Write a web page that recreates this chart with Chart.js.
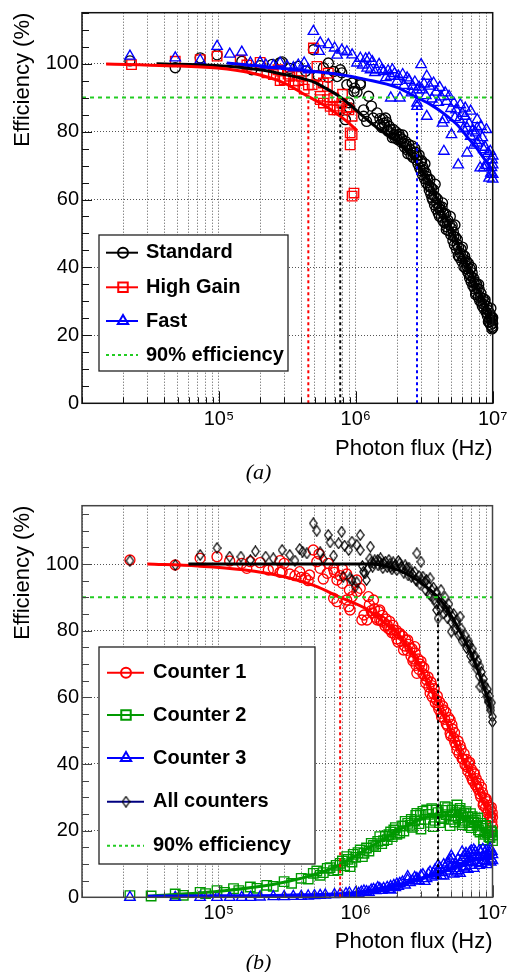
<!DOCTYPE html>
<html><head><meta charset="utf-8">
<script src="https://cdn.jsdelivr.net/npm/chart.js@4.4.1/dist/chart.umd.min.js"></script>
<style>
html,body{margin:0;padding:0;background:#fff;}
#wrap{position:relative;width:507px;height:972px;overflow:hidden;background:#fff;}
canvas{position:absolute;left:0;}
#cA{top:0;} #cB{top:480px;}
.cap{position:absolute;left:0;width:517px;text-align:center;font:italic 22px "Liberation Serif","DejaVu Serif",serif;line-height:22px;color:#000;}
</style></head>
<body><div id="wrap">
<canvas id="cA" width="507" height="480"></canvas>
<canvas id="cB" width="507" height="492"></canvas>
<div class="cap" style="top:461px">(a)</div>
<div class="cap" style="top:951px">(b)</div>
</div>
<script>
// ---------- axes / tick labels ----------
const xGrid = [1e4,2e4,3e4,4e4,5e4,6e4,7e4,8e4,9e4,1e5,2e5,3e5,4e5,5e5,6e5,7e5,8e5,9e5,1e6,2e6,3e6,4e6,5e6,6e6,7e6,8e6,9e6,1e7];
const xMajor = [1e5,1e6,1e7];
const xLabels = ['10\u2075','10\u2076','10\u2077'];
const yMajor = [0,20,40,60,80,100];
const yMinorStep = 5;
const xTitle = 'Photon flux (Hz)';
const yTitle = 'Efficiency (%)';
const eff90 = 90;

// ---------- panel (a) ----------
const legendA = ['Standard','High Gain','Fast','90% efficiency'];
const crossA = [4.5e5, 7.7e5, 2.8e6];   // red, black, blue 90% crossings
const standardPts = [[2.24e4,100.8],[4.8e4,98.8],[7.3e4,101.7],[9.7e4,102.6],[1.47e5,100.7],[1.74e5,98.2],[2.0e5,99.4],[2.45e5,99.8],[2.8e5,100.3],[2.9e5,100.5],[3.3e5,98.6],[3.8e5,99.2],[4.3e5,97.8],[4.9e5,104.1],[5.3e5,96.5],[5.8e5,98.8],[6.3e5,100.2],[6.3e5,96],[6.9e5,97.7],[7.3e5,96.2],[7.7e5,98.2],[7.9e5,97.3],[8.4e5,83.5],[8.6e5,86.4],[8.6e5,93.8],[8.9e5,88.5],[9.0e5,87],[9.4e5,94.3],[9.7e5,91.8],[9.8e5,92.8],[1.02e6,91.6],[1.08e6,94.3],[1.08e6,93.8],[1.14e6,84.5],[1.14e6,86.4],[1.2e6,83],[1.24e6,90.4],[1.3e6,87.5],[1.34e6,84],[1.43e6,85.5],[1.5e6,83.8],[1.5e6,82],[1.6e6,82.5],[1.65e6,84],[1.7e6,80.5],[1.8e6,80.5],[1.85e6,78.2],[1.9e6,79],[2.0e6,78.8],[2.1e6,78.4],[2.2e6,79],[2.24e6,76.6],[2.35e6,75.8],[2.4e6,73.5],[2.5e6,74.7],[2.65e6,73.6],[2.7e6,75],[2.8e6,72.8],[2.97e6,71.2],[3.0e6,68.5],[3.1e6,69.5],[3.2e6,70.5],[3.3e6,66.8],[3.4e6,64],[3.5e6,63.8],[3.6e6,60.5],[3.7e6,62.9],[3.8e6,64.5],[3.9e6,58.9],[4.0e6,56],[4.1e6,58.0],[4.3e6,59],[4.4e6,55.7],[4.6e6,52],[4.7e6,54],[4.9e6,55],[5.0e6,51.5],[5.2e6,49.1],[5.3e6,52.5],[5.5e6,46.8],[5.6e6,43.5],[5.8e6,44.2],[6.0e6,46],[6.1e6,42.5],[6.3e6,41.5],[6.5e6,40.3],[6.7e6,38],[6.9e6,37.5],[7.0e6,40],[7.3e6,35.4],[7.5e6,32],[7.7e6,33.8],[7.9e6,35],[8.1e6,31.4],[8.3e6,29.5],[8.6e6,29.2],[8.8e6,30.5],[9.1e6,26.5],[9.3e6,24],[9.5e6,24.8],[9.7e6,28],[9.8e6,25.5],[9.9e6,22.6],[1.0e7,23.5],
  [1.55e6,81.2],[1.58e6,83.6],[1.62e6,81.9],[1.68e6,82.8],[1.72e6,80.1],[1.76e6,81.5],[1.82e6,79.4],[1.88e6,80.6],[1.93e6,78.1],[1.97e6,79.9],[2.03e6,77.6],[2.07e6,79.2],[2.14e6,76.9],[2.18e6,77.8],[2.27e6,75.4],[2.31e6,77.1],[2.38e6,74.6],[2.44e6,76.2],[2.53e6,73.1],[2.58e6,75.8],[2.62e6,72.4],[2.74e6,73.9],[2.77e6,71.6],[2.85e6,70.4],[2.9e6,73.1],[2.93e6,69.2],[3.03e6,71.4],[3.07e6,67.3],[3.14e6,68.6],[3.18e6,66.1],[3.24e6,67.9],[3.27e6,64.9],[3.36e6,65.8],[3.44e6,62.7],[3.48e6,65.9],[3.53e6,61.6],[3.58e6,63.4],[3.65e6,59.8],[3.72e6,61.1],[3.76e6,58.4],[3.84e6,60.6],[3.87e6,57.2],[3.95e6,60.1],[4.04e6,57.6],[4.08e6,55.1],[4.16e6,56.9],[4.22e6,54.8],[4.27e6,57.8],[4.34e6,53.6],[4.38e6,55.9],[4.48e6,53.1],[4.53e6,55.8],[4.58e6,51.2],[4.65e6,53.3],[4.76e6,50.8],[4.83e6,52.6],[4.94e6,49.6],[5.06e6,52.3],[5.12e6,47.9],[5.16e6,50.4],[5.25e6,46.6],[5.36e6,48.9],[5.44e6,45.3],[5.52e6,48.2],[5.64e6,45.9],[5.72e6,42.9],[5.86e6,45.4],[5.94e6,41.8],[6.05e6,43.7],[6.16e6,40.2],[6.24e6,43.3],[6.36e6,39.7],[6.43e6,41.9],[6.58e6,38.6],[6.64e6,41.2],[6.78e6,36.9],[6.84e6,39.6],[6.96e6,35.8],[7.08e6,38.4],[7.16e6,34.6],[7.24e6,36.9],[7.38e6,33.7],[7.46e6,35.7],[7.58e6,32.4],[7.64e6,35.1],[7.84e6,31.2],[7.96e6,33.6],[8.04e6,30.2],[8.2e6,32.4],[8.4e6,28.6],[8.5e6,30.9],[8.66e6,27.8],[8.74e6,29.9],[8.94e6,26.8],[9.04e6,28.6],[9.16e6,25.6],[9.24e6,27.4],[9.42e6,23.9],[9.56e6,26.4],[9.64e6,23.1],[9.74e6,25.1],[9.86e6,21.9],[9.93e6,24.4],[1e7,22.2],[1e7,25.2]];
const highGainPts = [[2.3e4,99.7],[4.8e4,100.7],[7.3e4,101.2],[9.7e4,102.2],[1.43e5,101],[1.6e5,99.6],[2.0e5,100.4],[2.24e5,97.3],[2.5e5,96.8],[2.7e5,98.2],[2.8e5,95],[3.0e5,95.3],[3.2e5,96.9],[3.3e5,96.3],[3.5e5,93.8],[3.6e5,94.9],[3.8e5,95],[4.0e5,96.3],[4.2e5,92.5],[4.5e5,93.7],[4.8e5,93.8],[4.9e5,104.6],[5.2e5,99.2],[5.2e5,96.3],[5.5e5,90.4],[5.5e5,89.4],[5.8e5,94.3],[5.8e5,88.4],[6.2e5,93.3],[6.2e5,89.4],[6.3e5,97.2],[6.5e5,87.4],[6.9e5,89.9],[6.9e5,86.4],[7.3e5,86.4],[7.6e5,87.5],[7.9e5,88.4],[8.0e5,91],[8.6e5,87],[8.9e5,86.4],[9.1e5,79.6],[9.4e5,84.5],[9.4e5,79.1],[9.1e5,76.1],[9.7e5,61.9],[9.4e5,61]];
const fastPts = [[2.24e4,102.2],[4.8e4,101.7],[7.3e4,101],[9.7e4,105.1],[1.2e5,102.8],[1.47e5,103.4],[1.7e5,100.2],[2.0e5,100.4],[2.2e5,99.6],[2.5e5,99.4],[2.8e5,100.2],[3.15e5,99.2],[3.5e5,98.8],[3.8e5,99.6],[4.2e5,100.2],[4.5e5,98.2],[4.9e5,109.5],[5.4e5,103.6],[5.5e5,106.1],[6.3e5,105.6],[7.0e5,104.6],[7.3e5,102.5],[7.9e5,104],[8.6e5,103.5],[9.4e5,102.6],[1.02e6,100.2],[1.08e6,101.6],[1.21e6,98.7],[1.25e6,101.6],[1.28e6,98.2],[1.42e6,98.2],[1.55e6,98.2],[1.6e6,97.7],[1.8e6,96.3],[1.8e6,89.9],[1.85e6,98.2],[2.0e6,94.8],[2.1e6,89.9],[2.2e6,96.8],[2.37e6,95.8],[2.6e6,93.3],[2.8e6,92.3],[2.8e6,87.4],[2.8e6,88.4],[3.0e6,99.7],[3.15e6,94],[3.3e6,96.3],[3.3e6,84.5],[3.7e6,94.3],[4.1e6,93],[4.3e6,82.5],[4.4e6,83.5],[4.4e6,74.2],[4.5e6,91.4],[4.8e6,90.4],[5.0e6,79.1],[5.2e6,88.4],[5.4e6,86.4],[5.6e6,70.2],[5.8e6,87.9],[6.3e6,86.9],[6.3e6,84.5],[6.5e6,73.7],[6.5e6,81],[6.9e6,86],[6.9e6,78.6],[7.3e6,76],[7.7e6,83.5],[7.7e6,81],[7.7e6,76.6],[8.1e6,69.3],[8.2e6,81.5],[8.6e6,74.7],[8.6e6,69.3],[9.0e6,80.6],[9.0e6,70],[9.4e6,66.3],[9.7e6,67.8],[9.9e6,71.7],[1.0e7,67.4],[1.0e7,66],
  [1.12e6,99.6],[1.18e6,101.4],[1.32e6,100.6],[1.38e6,97.4],[1.48e6,99.8],[1.66e6,95.9],[1.72e6,97.9],[1.92e6,97.1],[2.05e6,96.3],[2.25e6,93.6],[2.45e6,95.1],[2.55e6,91.4],[2.7e6,94.6],[2.9e6,93.1],[3.05e6,92.3],[3.25e6,90.6],[3.45e6,93.4],[3.6e6,89.6],[3.85e6,91.6],[4.0e6,88.6],[4.2e6,90.2],[4.6e6,88.9],[4.95e6,86.8],[5.3e6,84.1],[5.7e6,83.6],[6.0e6,85.4],[6.1e6,80.8],[6.7e6,82.4],[7.1e6,80.2],[7.5e6,79.6],[7.9e6,77.4],[8.4e6,78.2],[8.8e6,75.4],[9.2e6,73.6],[9.6e6,74.2],[9.8e6,69.4],[1e7,70.2],[1e7,72.8]];
const standardFit = [[3.5e4,100],[1e5,99.4],[2e5,98.2],[3e5,96.8],[4e5,95.7],[5e5,94.5],[6e5,92.8],[7.7e5,90.2],[1e6,86.4],[1.2e6,83.6],[1.5e6,80.5],[2e6,77],[2.5e6,73.2],[3e6,69],[3.5e6,64.5],[4e6,59.5],[5e6,51],[6e6,44],[7e6,38],[8e6,32.5],[9e6,28],[1e7,23.5]];
const highGainFit = [[1.5e4,99.9],[4.2e4,99.4],[9.7e4,98.7],[1.7e5,97.3],[3e5,94.3],[4.5e5,90.3],[5.5e5,88.4],[6.9e5,85.9],[8.6e5,83],[1.02e6,80.3]];
const fastFit = [[1.14e5,100.2],[3e5,98.6],[7e5,97],[1.2e6,95.3],[2e6,93],[2.8e6,90],[3.5e6,88],[4.5e6,85],[5.5e6,82],[6.5e6,78.5],[7.5e6,75.5],[8.5e6,72.5],[1e7,68.5]];

// ---------- panel (b) ----------
const legendB = ['Counter 1','Counter 2','Counter 3','All counters','90% efficiency'];
const crossB = [7.7e5, 4.0e6];   // red, black
const counter1Pts = [[2.24e4,101.2],[4.8e4,99.7],[7.3e4,101.7],[9.7e4,102.2],[1.2e5,100.9],[1.47e5,100.2],[1.6e5,98.7],[1.7e5,100.7],[2.0e5,100.4],[2.3e5,98.2],[2.5e5,98.7],[2.8e5,101],[2.8e5,97.5],[2.9e5,97.7],[3.0e5,100.2],[3.3e5,97],[3.6e5,96.5],[3.9e5,97.7],[4.0e5,96],[4.3e5,95.8],[4.5e5,95],[4.6e5,96.7],[4.9e5,104.2],[5.2e5,100.7],[5.4e5,103],[5.5e5,98.7],[5.8e5,95.5],[6.2e5,97.2],[6.3e5,100.2],[6.9e5,98.4],[6.9e5,89.7],[7.0e5,97.5],[7.3e5,95.2],[7.3e5,88.7],[7.7e5,96.5],[8.0e5,94.2],[8.0e5,98.5],[8.6e5,97],[8.6e5,89.2],[8.9e5,87.2],[9.0e5,92.2],[9.1e5,86.2],[9.4e5,90.2],[1.02e6,91.7],[1.02e6,95.2],[1.08e6,92.7],[1.11e6,83.2],[1.15e6,84.7],[1.21e6,83.2],[1.24e6,90.2],[1.3e6,86],[1.35e6,89.2],[1.4e6,84],[1.5e6,86.2],[1.5e6,83.2],[1.6e6,82.5],[1.7e6,81.7],[1.8e6,80.2],[1.9e6,80.2],[2.0e6,77.5],[2.1e6,79.2],[2.24e6,74.2],[2.4e6,77.2],[2.5e6,74.7],[2.65e6,71.5],[2.7e6,75.2],[2.8e6,67.2],[2.95e6,70],[3.05e6,69.2],[3.2e6,66.5],[3.3e6,65.2],[3.5e6,61.2],[3.6e6,63.5],[3.7e6,61.2],[3.9e6,59.2],[4.0e6,57.5],[4.2e6,55.2],[4.4e6,56.2],[4.6e6,52],[4.9e6,53.2],[4.9e6,49.2],[5.1e6,50.5],[5.3e6,46.5],[5.5e6,44.2],[5.8e6,45.5],[6.1e6,41.5],[6.5e6,39.2],[6.8e6,40.5],[7.1e6,35.5],[7.4e6,37],[7.7e6,33.2],[8.1e6,31],[8.3e6,33],[8.6e6,28.2],[9.0e6,29.5],[9.3e6,26],[9.7e6,24.2],[9.8e6,27],[1.0e7,21.2],[1.0e7,24],
  [1.26e6,87.8],[1.32e6,85.3],[1.37e6,86.6],[1.44e6,83.2],[1.47e6,85.8],[1.54e6,82.9],[1.57e6,84.6],[1.64e6,81.4],[1.67e6,83.5],[1.74e6,80.6],[1.77e6,82.8],[1.84e6,79.4],[1.87e6,81.6],[1.93e6,78.9],[1.98e6,80.1],[2.04e6,76.6],[2.07e6,79.1],[2.15e6,76.8],[2.2e6,78.4],[2.28e6,75.4],[2.32e6,77.2],[2.38e6,74.1],[2.44e6,75.9],[2.54e6,72.3],[2.58e6,74.6],[2.62e6,70.9],[2.72e6,73.3],[2.76e6,69.6],[2.86e6,71.5],[2.9e6,68.4],[3.0e6,70.8],[3.1e6,67.1],[3.15e6,68.9],[3.25e6,64.3],[3.38e6,66.1],[3.43e6,63.1],[3.55e6,64.6],[3.63e6,60.1],[3.75e6,62.6],[3.82e6,58.4],[3.95e6,60.4],[4.05e6,56.4],[4.1e6,58.6],[4.25e6,54.1],[4.32e6,57.4],[4.48e6,53.4],[4.55e6,55.6],[4.7e6,51.4],[4.78e6,53.9],[4.96e6,48.4],[5.05e6,51.8],[5.2e6,47.8],[5.28e6,49.4],[5.42e6,45.6],[5.6e6,46.9],[5.7e6,43.1],[5.9e6,44.4],[6.0e6,41.6],[6.2e6,43.1],[6.3e6,39.8],[6.45e6,41.4],[6.6e6,37.9],[6.7e6,40.1],[6.9e6,36.6],[7.0e6,38.4],[7.2e6,34.9],[7.3e6,37.4],[7.5e6,33.8],[7.6e6,35.6],[7.85e6,32.4],[7.95e6,34.2],[8.2e6,30.1],[8.45e6,31.4],[8.55e6,27.6],[8.8e6,29.8],[8.9e6,26.9],[9.1e6,28.7],[9.2e6,25.4],[9.4e6,27.6],[9.55e6,24.1],[9.65e6,26.3],[9.9e6,22.6],[9.95e6,25.4]];
const counter2Pts = [[2.24e4,0.5],[3.2e4,0.4],[4.8e4,1.0],[5.5e4,0.6],[7.3e4,1.5],[8.0e4,1.1],[9.7e4,2.0],[1.1e5,1.5],[1.28e5,2.6],[1.4e5,2.0],[1.7e5,3.1],[1.9e5,2.7],[2.24e5,3.6],[2.5e5,3.3],[3.0e5,4.7],[3.4e5,4.2],[4.0e5,5.7],[4.5e5,5.5],[4.9e5,7.2],[5.5e5,6.6],[6.2e5,8.7],[6.9e5,8.0],[7.7e5,10.2],[8.3e5,9.5],[8.6e5,12.2],[9.1e5,9.2],[1.0e6,12.0],[1.08e6,14.2],[1.15e6,13.2],[1.3e6,16.2],[1.4e6,15.2],[1.5e6,18.2],[1.6e6,17.0],[1.75e6,18.8],[1.9e6,20.2],[2.1e6,19.3],[2.4e6,22.2],[2.6e6,21.0],[2.8e6,25.2],[2.97e6,24.7],[3.0e6,20.5],[3.3e6,26.2],[3.5e6,22.5],[3.7e6,21.2],[3.9e6,26.2],[4.2e6,24.0],[4.5e6,27.2],[4.9e6,21.5],[5.2e6,24.5],[5.5e6,27.7],[5.8e6,26.7],[6.1e6,22.5],[6.4e6,25.7],[6.8e6,21.5],[7.1e6,24.2],[7.5e6,23.2],[7.9e6,20.2],[8.2e6,22.2],[8.6e6,17.2],[9.0e6,20.7],[9.4e6,18.2],[9.7e6,20.0],[1.0e7,18.7],[1.0e7,17.0],
  [5.2e5,7.9],[5.8e5,7.4],[6.5e5,8.9],[7.2e5,9.6],[7.4e5,8.2],[8.0e5,10.9],[8.8e5,11.4],[9.4e5,10.6],[9.6e5,12.9],[1.04e6,13.4],[1.12e6,12.2],[1.2e6,14.8],[1.25e6,13.9],[1.35e6,15.6],[1.45e6,16.8],[1.55e6,16.1],[1.65e6,18.4],[1.7e6,17.3],[1.8e6,19.6],[1.85e6,18.2],[1.95e6,20.9],[2.0e6,18.9],[2.2e6,21.4],[2.25e6,19.9],[2.3e6,22.8],[2.5e6,21.6],[2.55e6,23.4],[2.7e6,22.9],[2.75e6,24.6],[2.9e6,22.1],[3.1e6,25.8],[3.2e6,23.4],[3.4e6,24.9],[3.6e6,26.6],[3.8e6,23.1],[4.0e6,25.4],[4.1e6,22.4],[4.3e6,26.1],[4.4e6,23.6],[4.6e6,24.8],[4.7e6,26.9],[5.0e6,23.4],[5.1e6,26.2],[5.3e6,22.6],[5.4e6,25.4],[5.6e6,23.8],[5.7e6,26.1],[5.9e6,24.6],[6.0e6,21.8],[6.2e6,25.2],[6.3e6,23.1],[6.6e6,24.1],[6.7e6,22.4],[6.9e6,25.1],[7.0e6,20.9],[7.3e6,22.6],[7.7e6,21.6],[7.8e6,23.8],[8.1e6,19.6],[8.4e6,21.4],[8.8e6,18.9],[8.9e6,21.6],[9.2e6,19.4],[9.6e6,17.9],[9.9e6,19.6]];
const counter3Pts = [[2.24e4,0],[4.8e4,0],[7.3e4,0],[9.7e4,0],[1.2e5,0],[1.47e5,0],[1.7e5,0],[2.0e5,0.1],[2.5e5,0.2],[3.0e5,0.2],[3.5e5,0.3],[4.0e5,0.3],[4.5e5,0.4],[5.0e5,0.5],[5.5e5,0.6],[6.0e5,0.7],[7.0e5,0.8],[7.7e5,1.0],[8.5e5,1.1],[9.0e5,1.3],[1.0e6,1.4],[1.1e6,1.6],[1.2e6,1.7],[1.35e6,2.4],[1.5e6,2.6],[1.6e6,2.7],[1.8e6,3.3],[1.8e6,2.2],[2.0e6,4.0],[2.1e6,4.2],[2.4e6,5.2],[2.4e6,6.2],[2.6e6,5.0],[2.8e6,5.7],[3.0e6,6.5],[3.2e6,4.8],[3.4e6,7.0],[3.7e6,7.2],[4.0e6,8.0],[4.2e6,6.5],[4.5e6,9.0],[4.9e6,8.7],[4.9e6,11.2],[5.2e6,7.0],[5.4e6,9.8],[5.8e6,10.2],[5.8e6,7.2],[6.1e6,12],[6.4e6,13.2],[6.6e6,8.4],[7.0e6,14.0],[7.3e6,14.2],[7.3e6,8.7],[7.7e6,12.5],[8.0e6,14.0],[8.4e6,11],[8.8e6,13.5],[9.2e6,12.2],[9.5e6,13.5],[9.8e6,11.5],[1.0e7,11.0],[1.0e7,12.8],
  [1.05e6,1.2],[1.15e6,1.9],[1.25e6,1.5],[1.3e6,2.2],[1.4e6,2.0],[1.45e6,2.9],[1.55e6,2.1],[1.7e6,3.0],[1.75e6,2.4],[1.9e6,3.6],[1.95e6,2.9],[2.05e6,3.3],[2.2e6,4.6],[2.3e6,3.7],[2.5e6,4.4],[2.7e6,6.0],[2.75e6,4.9],[2.9e6,5.1],[3.1e6,6.8],[3.3e6,5.6],[3.5e6,7.6],[3.6e6,6.1],[3.8e6,8.2],[3.9e6,6.6],[4.1e6,8.9],[4.3e6,7.4],[4.4e6,9.8],[4.6e6,7.9],[4.7e6,10.3],[5.0e6,9.4],[5.1e6,11.6],[5.3e6,8.6],[5.6e6,11.4],[5.6e6,8.0],[6.0e6,11.1],[6.2e6,8.8],[6.3e6,12.6],[6.5e6,10.4],[6.8e6,13.4],[6.9e6,9.6],[7.1e6,12.2],[7.5e6,13.6],[7.6e6,10.4],[7.9e6,12.0],[8.2e6,13.6],[8.3e6,10.2],[8.6e6,12.3],[9.0e6,14.0],[9.0e6,10.8],[9.4e6,12.6],[9.7e6,10.6],[9.9e6,13.8],
  [4.0e6,9.6],[4.4e6,6.4],[5.0e6,12.4],[5.5e6,7.6],[6.0e6,13.6],[6.4e6,9.2],[7.0e6,10.8],[7.3e6,12.8],[8.0e6,9.6],[8.5e6,14.4],[9.1e6,9.8],[9.6e6,14.6]];
const allPts = [[2.24e4,101],[4.8e4,99.7],[7.3e4,102.7],[9.7e4,104.8],[1.2e5,102.2],[1.45e5,102.2],[1.7e5,101.2],[1.85e5,103.8],[2.2e5,102.2],[2.5e5,101.7],[2.9e5,104.2],[3.3e5,102.7],[3.6e5,101],[3.9e5,104.5],[4.1e5,103.7],[4.4e5,103.2],[4.9e5,112.2],[5.2e5,110],[5.5e5,103.5],[5.8e5,101.5],[6.3e5,108.7],[6.5e5,106.5],[6.9e5,102.5],[7.5e5,106.2],[7.9e5,109.7],[8.1e5,96.2],[8.3e5,105.5],[8.9e5,104.2],[9.1e5,95.7],[9.4e5,106.7],[9.4e5,95.2],[9.9e5,93.2],[1.02e6,105.7],[1.02e6,94.5],[1.08e6,108.7],[1.08e6,104.2],[1.14e6,97.7],[1.17e6,97.2],[1.2e6,95.2],[1.28e6,105.2],[1.3e6,100.5],[1.35e6,100.2],[1.45e6,101.2],[1.5e6,100.7],[1.55e6,100],[1.6e6,100.2],[1.75e6,101.2],[1.8e6,99.2],[1.9e6,99.2],[1.95e6,99.7],[2.1e6,100.2],[2.2e6,98.7],[2.35e6,98.7],[2.5e6,97.7],[2.6e6,97],[2.8e6,103.2],[2.8e6,95],[3.0e6,100.7],[3.1e6,96.2],[3.3e6,95.2],[3.45e6,91],[3.5e6,95.7],[3.6e6,92.2],[3.9e6,91.5],[3.9e6,86.2],[4.0e6,83.7],[4.2e6,92.2],[4.5e6,90],[4.6e6,86],[4.8e6,88],[5.0e6,79.7],[5.2e6,85],[5.5e6,83.2],[5.8e6,84.2],[5.8e6,79.2],[6.2e6,77.2],[6.6e6,75.5],[6.8e6,75.7],[7.0e6,73.5],[7.3e6,72.2],[7.6e6,70],[8.1e6,69.2],[8.1e6,63.2],[8.6e6,65.5],[9.1e6,60.2],[9.4e6,58.5],[9.6e6,57],[1.0e7,54.2],
  [1.12e6,99.4],[1.22e6,98.4],[1.27e6,101.6],[1.33e6,99.2],[1.38e6,101.1],[1.46e6,99.6],[1.52e6,101.7],[1.58e6,98.8],[1.65e6,100.7],[1.7e6,99.1],[1.78e6,100.1],[1.84e6,98.4],[1.88e6,100.5],[2.0e6,98.2],[2.05e6,100.9],[2.15e6,99.2],[2.25e6,97.4],[2.3e6,99.6],[2.42e6,96.6],[2.45e6,98.9],[2.55e6,96.2],[2.7e6,97.6],[2.75e6,95.3],[2.9e6,96.4],[2.95e6,93.9],[3.05e6,95.1],[3.2e6,94.6],[3.25e6,92.2],[3.38e6,93.6],[3.55e6,90.4],[3.7e6,92.9],[3.75e6,89.4],[3.85e6,88.4],[4.05e6,89.6],[4.15e6,86.6],[4.3e6,88.2],[4.4e6,85.2],[4.55e6,87.1],[4.7e6,83.7],[4.85e6,85.8],[5.0e6,82.6],[5.1e6,84.2],[5.35e6,80.4],[5.45e6,82.1],[5.65e6,78.8],[5.9e6,80.6],[6.0e6,76.9],[6.3e6,78.6],[6.45e6,74.8],[6.7e6,76.8],[6.9e6,72.4],[7.1e6,74.6],[7.2e6,70.6],[7.45e6,72.4],[7.7e6,68.4],[7.8e6,70.9],[8.0e6,66.4],[8.3e6,67.6],[8.4e6,64.1],[8.8e6,63.6],[8.9e6,61.6],[9.2e6,62.4],[9.3e6,58.9],[9.5e6,60.4],[9.7e6,56.1],[9.85e6,58.4],[1e7,52.6]];
const counter1Fit = [[3e4,100],[7e4,99.4],[1.5e5,98.3],[3e5,96.2],[5e5,93.5],[7.7e5,90],[1.2e6,86.5],[1.6e6,82.5],[2.1e6,78.5],[2.8e6,71],[3.5e6,63],[4.2e6,56],[5e6,49.5],[6e6,42],[7e6,36],[8e6,31],[9e6,27],[1e7,23.5]];
const counter2Fit = [[3e4,0.3],[1e5,1.8],[3e5,4.5],[7e5,9],[1e6,12.5],[2e6,19.8],[3e6,23.5],[4e6,24.5],[5e6,24.5],[6e6,23.8],[8e6,21],[1e7,18.5]];
const counter3Fit = [[3e4,0.2],[1e5,0.3],[3e5,0.5],[1e6,1.3],[2e6,3.6],[3e6,5.6],[5e6,8.6],[7e6,11],[1e7,12.2]];
const allFit = [[6e4,100],[1.3e6,100],[1.8e6,99],[2.5e6,96.5],[3.2e6,93.5],[4e6,90],[5e6,84.5],[6e6,78.5],[7e6,73],[8e6,67],[9e6,61],[1e7,55]];

// ---------- styling ----------
const FONT = '"Liberation Sans", Arial, Helvetica, sans-serif';
const RED='#ff0000', BLUE='#0000ff', BLACK='#000000', GREEN='#009900', LIME='#22cc22', NAVY='#000080';

function makeDiamond(color){
  const c=document.createElement('canvas'); c.width=9; c.height=12;
  const g=c.getContext('2d'); g.strokeStyle=color; g.lineWidth=1.2;
  g.beginPath(); g.moveTo(4.5,0.8); g.lineTo(8.2,6); g.lineTo(4.5,11.2); g.lineTo(0.8,6); g.closePath(); g.stroke();
  return c;
}
const diamond = makeDiamond(BLACK);

const P = arr => arr.map(([x,y])=>({x,y}));
function pts(arr,color,style,r){
  return {data:P(arr),showLine:false,pointStyle:style,pointRadius:r,pointHoverRadius:r,
    pointBorderColor:color,pointBackgroundColor:'rgba(0,0,0,0)',pointBorderWidth:1.35,borderColor:color,order:3,clip:false};
}
function fit(arr,color,w){
  return {data:P(arr),showLine:true,borderColor:color,borderWidth:w,pointRadius:0,tension:0.4,
    cubicInterpolationMode:'monotone',fill:false,order:2};
}
function seg(p0,p1,color,dash){
  return {data:P([p0,p1]),showLine:true,borderColor:color,borderWidth:2,borderDash:dash,pointRadius:0,order:1};
}

const decor = {
  id:'decor',
  afterDraw(chart){
    const o=chart.options.plugins.decor, ctx=chart.ctx, a=chart.chartArea;
    const xs=chart.scales.x, ys=chart.scales.y;
    ctx.save();
    ctx.strokeStyle=o.frame; ctx.lineWidth=1;
    ctx.beginPath();
    for(let v=0; v<=ys.max+1e-9; v+=yMinorStep){
      const py=Math.round(ys.getPixelForValue(v))+0.5; const len=(v%20===0)?10:7;
      ctx.moveTo(a.left,py); ctx.lineTo(a.left+len,py);
    }
    xGrid.forEach(v=>{
      const px=Math.round(xs.getPixelForValue(v))+0.5; const len=xMajor.includes(v)?12:6;
      ctx.moveTo(px,a.bottom); ctx.lineTo(px,a.bottom-len);
    });
    ctx.stroke();
    ctx.lineWidth=1.5; ctx.strokeRect(a.left,a.top,a.right-a.left,a.bottom-a.top);
    // legend
    const L=o.legend;
    ctx.fillStyle='#fff'; ctx.fillRect(L.x,L.y,L.w,L.h);
    ctx.lineWidth=1.3; ctx.strokeStyle='#222'; ctx.strokeRect(L.x,L.y,L.w,L.h);
    L.items.forEach((it,i)=>{
      const y=L.rows[i];
      ctx.strokeStyle=it.line; ctx.lineWidth=2; ctx.setLineDash(it.dash||[]);
      ctx.beginPath(); ctx.moveTo(L.lx1,y); ctx.lineTo(L.lx2,y); ctx.stroke(); ctx.setLineDash([]);
      if(it.style){
        ctx.strokeStyle=it.color; ctx.fillStyle='rgba(0,0,0,0)';
        Chart.helpers.drawPoint(ctx,{pointStyle:it.style,radius:it.r,borderWidth:1.2,rotation:0},L.mx,y);
      }
      ctx.fillStyle='#000'; ctx.font='bold 20px '+FONT; ctx.textBaseline='middle'; ctx.textAlign='left';
      ctx.fillText(it.label,L.tx,y);
    });
    ctx.restore();
  }
};

function makeOptions(cfg){
  return {
    responsive:false, animation:false, devicePixelRatio:1, events:[],
    layout:{padding:{left:0,right:cfg.padRight,top:cfg.top,bottom:0}},
    plugins:{legend:{display:false},tooltip:{enabled:false},
      decor:{frame:cfg.frame,legend:cfg.legend}},
    scales:{
      x:{type:'logarithmic',position:'bottom',min:1e4,max:1e7,
        afterBuildTicks:s=>{s.ticks=xGrid.map(v=>({value:v}));},
        afterFit:s=>{s.height=cfg.xH; s.paddingLeft=0; s.paddingRight=0;},
        ticks:{autoSkip:false,maxRotation:0,minRotation:0,padding:4,color:'#000',font:{family:FONT,size:20},
          callback:(v)=>{const i=xMajor.findIndex(m=>Math.abs(m-v)/m<1e-6); return i>=0?xLabels[i]:'';}},
        grid:{drawTicks:false,color:'#555',lineWidth:1},
        border:{display:false,dash:[1,2]},
        title:{display:true,text:xTitle,align:'end',color:'#000',font:{family:FONT,size:22},padding:{top:0,bottom:cfg.xTitlePad}}
      },
      y:{type:'linear',position:'left',min:0,max:cfg.yMax,
        afterBuildTicks:s=>{s.ticks=yMajor.map(v=>({value:v}));},
        afterFit:s=>{s.width=82; s.paddingTop=0; s.paddingBottom=0;},
        ticks:{padding:3,color:'#000',font:{family:FONT,size:20},callback:v=>String(v)},
        grid:{drawTicks:false,color:'#555',lineWidth:1},
        border:{display:false,dash:[1,2]},
        title:{display:true,text:yTitle,align:'end',color:'#000',font:{family:FONT,size:22},padding:{top:10,bottom:0}}
      }
    }
  };
}

// ---------- chart (a) ----------
new Chart(document.getElementById('cA'),{
  type:'scatter',
  data:{datasets:[
    seg([1e4,eff90],[1e7,eff90],LIME,[4,4]),
    seg([crossA[0],0],[crossA[0],eff90],RED,[3,3]),
    seg([crossA[1],0],[crossA[1],eff90],BLACK,[3,3]),
    seg([crossA[2],0],[crossA[2],eff90],BLUE,[3,3]),
    fit(highGainFit,RED,3),
    fit(standardFit,BLACK,3),
    fit(fastFit,BLUE,3),
    pts(fastPts,BLUE,'triangle',6),
    pts(highGainPts,RED,'rect',6.7),
    pts(standardPts,BLACK,'circle',5)
  ]},
  options:makeOptions({padRight:14.3,top:12.7,xH:76.7,xTitlePad:17.8,yMax:115,frame:'#111',
    legend:{x:99,y:235,w:189,h:136,lx1:106,lx2:138,mx:123,tx:146,rows:[252.7,287.3,321,355],
      items:[{label:legendA[0],line:BLACK,color:BLACK,style:'circle',r:5},
             {label:legendA[1],line:RED,color:RED,style:'rect',r:6.7},
             {label:legendA[2],line:BLUE,color:BLUE,style:'triangle',r:6},
             {label:legendA[3],line:LIME,dash:[3,3]}]}}),
  plugins:[decor]
});

// ---------- chart (b) ----------
new Chart(document.getElementById('cB'),{
  type:'scatter',
  data:{datasets:[
    seg([1e4,eff90],[1e7,eff90],LIME,[4,4]),
    seg([crossB[0],0],[crossB[0],eff90],RED,[3,3]),
    seg([crossB[1],0],[crossB[1],eff90],BLACK,[3,3]),
    fit(allFit,BLACK,3),
    fit(counter1Fit,RED,3),
    fit(counter3Fit,BLUE,4),
    fit(counter2Fit,GREEN,3),
    pts(counter3Pts,BLUE,'triangle',6),
    pts(counter2Pts,GREEN,'rect',6.7),
    pts(allPts,BLACK,diamond,5),
    pts(counter1Pts,RED,'circle',5)
  ]},
  options:makeOptions({padRight:14.5,top:25.7,xH:74.7,xTitlePad:16.8,yMax:117.5,frame:'#444',
    legend:{x:99,y:167,w:216,h:217,lx1:107,lx2:144,mx:126,tx:153,rows:[192.7,235,278,321.7,365.7],
      items:[{label:legendB[0],line:RED,color:RED,style:'circle',r:5},
             {label:legendB[1],line:GREEN,color:GREEN,style:'rect',r:6.7},
             {label:legendB[2],line:BLUE,color:BLUE,style:'triangle',r:6},
             {label:legendB[3],line:NAVY,color:BLACK,style:diamond,r:5},
             {label:legendB[4],line:LIME,dash:[3,3]}]}}),
  plugins:[decor]
});
</script>
</body></html>
